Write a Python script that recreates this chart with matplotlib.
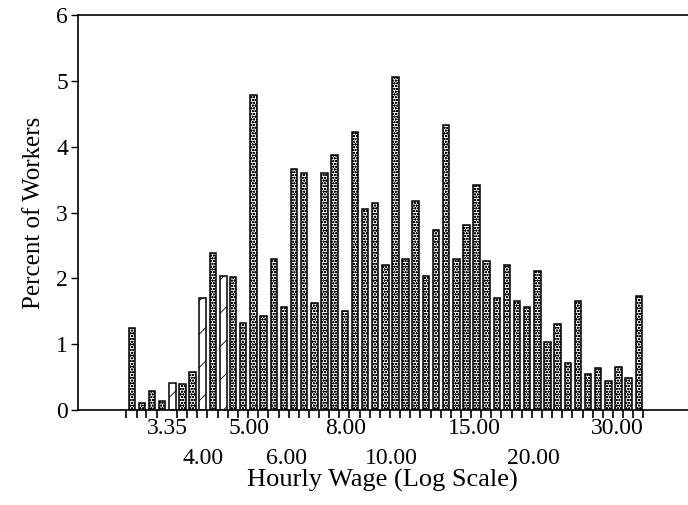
import numpy as np
import matplotlib
matplotlib.use("Agg")
import matplotlib.pyplot as plt

plt.rcParams["font.family"] = ["Liberation Serif", "DejaVu Serif"]
plt.rcParams["hatch.linewidth"] = 0.6

# bin edges of the wage histogram (dollars per hour, log spaced)
wage_edges = [2.75, 2.89, 3.03, 3.19, 3.35, 3.52, 3.70, 3.88, 4.08, 4.29,
              4.51, 4.73, 4.97, 5.22, 5.49, 5.77, 6.06, 6.37, 6.69, 7.03,
              7.38, 7.76, 8.15, 8.56, 8.99, 9.45, 9.93, 10.43, 10.96, 11.51,
              12.10, 12.71, 13.35, 14.03, 14.74, 15.49, 16.27, 17.09, 17.96, 18.87,
              19.82, 20.83, 21.88, 22.99, 24.15, 25.37, 26.66, 28.01, 29.43, 30.92,
              32.48, 34.13]

# percent of workers in each bin
pct_workers = [1.25, 0.10, 0.29, 0.14, 0.41, 0.40, 0.58, 1.70, 2.39, 2.03,
               2.02, 1.32, 4.79, 1.43, 2.29, 1.56, 3.67, 3.60, 1.62, 3.60,
               3.88, 1.50, 4.22, 3.05, 3.14, 2.21, 5.06, 2.30, 3.17, 2.03,
               2.73, 4.33, 2.29, 2.81, 3.42, 2.27, 1.70, 2.20, 1.65, 1.56,
               2.11, 1.04, 1.31, 0.72, 1.65, 0.55, 0.64, 0.44, 0.65, 0.48,
               1.73]

# bins holding the minimum wage values (drawn with diagonal lines)
min_wage_bins = [4, 7, 9]

# wage labels, staggered on two rows
upper_wages = [3.35, 5.00, 8.00, 15.00, 30.00]
lower_wages = [4.00, 6.00, 10.00, 20.00]

fig = plt.figure(figsize=(6.88, 5.05), dpi=100)
ax = fig.add_axes([0.113, 0.188, 0.887, 0.782])

edges = np.array(wage_edges)
lo = edges[:-1]
hi = edges[1:]
step = hi / lo
left = lo * step ** 0.22
right = lo * step ** 0.86

for i, h in enumerate(pct_workers):
    hatch = "/" if i in min_wage_bins else "oooooo"
    ax.bar(left[i], h, width=right[i] - left[i], align="edge",
           facecolor="white", edgecolor="black", linewidth=1.1, hatch=hatch)

ax.set_xscale("log")
ax.set_xlim(2.17, 42.4)
ax.set_ylim(0, 6)

ax.set_xticks(upper_wages)
ax.set_xticklabels(["%.2f" % w for w in upper_wages])
ax.set_xticks(wage_edges, minor=True)
ax.xaxis.set_minor_formatter(matplotlib.ticker.NullFormatter())
ax.tick_params(axis="x", which="major", length=0, pad=6, labelsize=17)
ax.tick_params(axis="x", which="minor", length=6, width=1.2, direction="out")

for w in lower_wages:
    ax.text(w, -0.122, "%.2f" % w, transform=ax.get_xaxis_transform(),
            ha="center", va="center", fontsize=17)

ax.set_yticks(range(0, 7))
ax.tick_params(axis="y", length=5, width=1, direction="out", pad=2, labelsize=17)

ax.spines["right"].set_visible(False)
for s in ["left", "bottom", "top"]:
    ax.spines[s].set_linewidth(1.2)

ax.set_xlabel("Hourly Wage (Log Scale)", fontsize=19)
ax.xaxis.set_label_coords(0.5, -0.148)
ax.set_ylabel("Percent of Workers", fontsize=18, labelpad=8)

fig.savefig("out.png", dpi=100)
